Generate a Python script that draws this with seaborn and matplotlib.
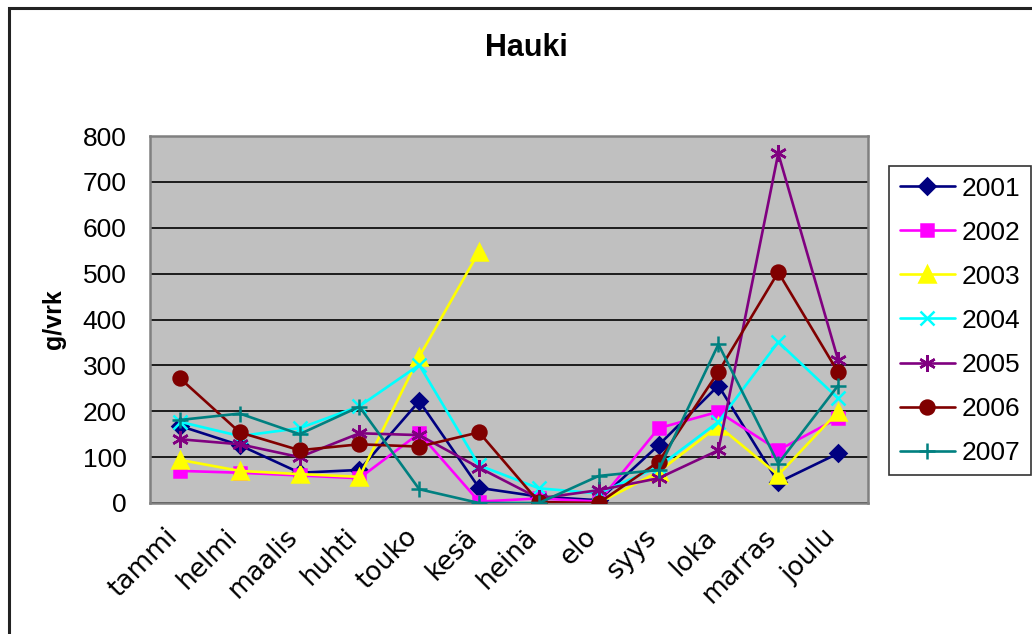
import numpy as np
import pandas as pd
import matplotlib
matplotlib.use("Agg")
import matplotlib.pyplot as plt
from matplotlib.patches import Rectangle
import seaborn as sns

months = ['tammi', 'helmi', 'maalis', 'huhti', 'touko', 'kesä',
          'heinä', 'elo', 'syys', 'loka', 'marras', 'joulu']

y2001 = [168, 126, 66, 72, 222, 33, 14, 6, 126, 256, 45, 108]
y2002 = [70, 66, 60, 54, 152, 3, 10, 3, 163, 199, 115, 185]
y2003 = [94, 70, 63, 57, 319, 548, np.nan, 0, 68, 168, 61, 199]
y2004 = [177, 146, 163, 211, 301, 82, 32, 21, 79, 177, 351, 228]
y2005 = [139, 128, 100, 152, 148, 77, 10, 28, 54, 115, 762, 312]
y2006 = [272, 154, 115, 128, 123, 154, 2, 0, 90, 286, 503, 285]
y2007 = [181, 195, 150, 210, 30, 0, 0, 59, 72, 346, 86, 256]

years = ['2001', '2002', '2003', '2004', '2005', '2006', '2007']
series = [y2001, y2002, y2003, y2004, y2005, y2006, y2007]
colors = ['#000080', '#FF00FF', '#FFFF00', '#00FFFF', '#800080', '#800000', '#008080']
markers = ['D', 's', '^', 'x', (6, 2, 0), 'o', '+']
msizes = [8, 9, 11, 10, 12, 10, 12]

sns.set_style("white")
plt.rcParams['font.family'] = ['Liberation Sans', 'DejaVu Sans']
plt.rcParams['text.color'] = 'black'
plt.rcParams['axes.labelcolor'] = 'black'
plt.rcParams['xtick.color'] = 'black'
plt.rcParams['ytick.color'] = 'black'

fig = plt.figure(figsize=(10.32, 6.34), dpi=100)
ax = fig.add_axes([150 / 1032, 1 - 503 / 634, 718 / 1032, 367 / 634])
ax.set_facecolor('#C0C0C0')

x = np.arange(len(months))
for year, vals, c, m, ms in zip(years, series, colors, markers, msizes):
    df = pd.DataFrame({'x': x, 'y': vals})
    # break the line where a month is missing
    df['seg'] = df['y'].isna().cumsum()
    df = df.dropna()
    first = True
    for _, part in df.groupby('seg'):
        sns.lineplot(data=part, x='x', y='y', ax=ax, color=c, marker=m,
                     markersize=ms, mec=c, mfc=c, mew=1.8, lw=1.9,
                     label=year if first else None, legend=False, zorder=3)
        first = False

ax.set_xlim(-0.5, 11.5)
ax.set_ylim(0, 800)
ax.set_yticks(range(0, 801, 100))
ax.yaxis.grid(True, color='black', lw=1.2)
ax.xaxis.grid(False)
ax.set_axisbelow(True)

ax.set_xticks(np.arange(-0.5, 12, 1))
ax.set_xticklabels([])
ax.set_xticks(x - 0.25, minor=True)
ax.set_xticklabels(months, minor=True, rotation=45, ha='right',
                   rotation_mode='anchor', fontsize=19, family='DejaVu Sans')
ax.tick_params(axis='x', which='minor', length=0, pad=15)
ax.tick_params(axis='x', which='major', length=7, width=1.2, color='#555555', direction='out')
ax.tick_params(axis='y', length=7, width=1.2, color='black', direction='out', labelsize=19, pad=10)

for s in ax.spines.values():
    s.set_color('#808080')
    s.set_linewidth(1.8)

ax.set_xlabel('')
ax.set_ylabel('g/vrk', fontsize=18, fontweight='bold', labelpad=12)

fig.text(526 / 1032, 1 - 48 / 634, 'Hauki', ha='center', va='center',
         fontsize=22, fontweight='bold')

handles, labels = ax.get_legend_handles_labels()
leg = fig.legend(handles, labels, loc='upper left',
                 bbox_to_anchor=(889 / 1032, 1 - 166 / 634),
                 fontsize=19, frameon=True, fancybox=False, borderpad=0.4,
                 labelspacing=0.76, handlelength=2.1, handletextpad=0.27,
                 borderaxespad=0)
leg.get_frame().set_edgecolor('black')
leg.get_frame().set_linewidth(1.2)

fig.add_artist(Rectangle((8.5 / 1032, -0.05), 1.2, (634 - 7.5) / 634 + 0.05,
                         transform=fig.transFigure, fill=False,
                         edgecolor='#222222', lw=2.2))

fig.savefig('out.png', dpi=100)
